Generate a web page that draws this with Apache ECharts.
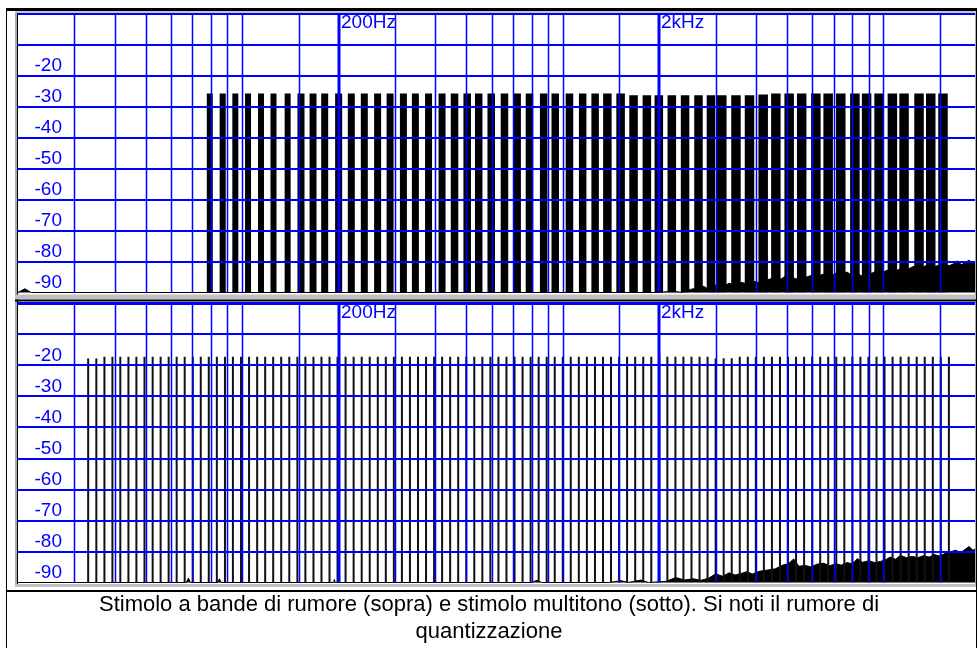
<!DOCTYPE html>
<html>
<head>
<meta charset="utf-8">
<script src="https://cdn.jsdelivr.net/npm/echarts@6/dist/echarts.min.js"></script>
<style>
html, body { margin: 0; padding: 0; background: #fff; }
#chart { width: 979px; height: 648px; }
</style>
</head>
<body>
<div id="chart"></div>
<script>
// frequency grid (Hz) and the two labelled decades
var gridFreqs = [30, 40, 50, 60, 70, 80, 90, 100, 150, 300, 400, 500, 600, 700, 800, 900, 1000,
    1500, 3000, 4000, 5000, 6000, 7000, 8000, 9000, 10000, 15000];
var majorFreqs = [200, 2000];
var majorLabels = ['200Hz', '2kHz'];
var yLabels = ['-20', '-30', '-40', '-50', '-60', '-70', '-80', '-90'];

// top: noise bands (edges in Hz, level in dB)
var bandLow = [77.6, 85.1, 93.2, 102.1, 112.1, 122.6, 135.7, 148.8, 162.3, 176.4, 195.0, 213.6, 234.5,
    258.0, 282.2, 310.5, 338.4, 372.0, 409.8, 447.4, 490.0, 532.3, 582.3, 640.3, 701.5, 766.3, 848.6,
    922.0, 1021, 1123, 1228, 1336, 1469, 1612, 1774, 1933, 2122, 2334, 2570, 2811, 3027, 3352, 3694,
    4076, 4464, 4912, 5373, 5949, 6498, 7115, 7874, 8565, 9367, 10306, 11208, 12481, 13575, 14823];
var bandHigh = [81.0, 88.9, 97.3, 106.6, 117.0, 128.0, 141.7, 156.5, 170.6, 185.5, 205.1, 224.6, 246.6,
    271.3, 296.7, 326.5, 355.8, 391.1, 430.9, 472.2, 517.2, 561.7, 614.5, 675.8, 740.3, 808.7, 895.6,
    973.1, 1078, 1185, 1296, 1420, 1562, 1714, 1886, 2055, 2256, 2481, 2732, 2988, 3241, 3588, 3955,
    4363, 4779, 5258, 5752, 6369, 6957, 7617, 8430, 9170, 10028, 11034, 11999, 13362, 14533, 15869];
var bandLevel = [-25.8, -25.8, -25.8, -25.8, -25.8, -25.8, -25.8, -25.8, -25.8, -25.8, -25.8, -25.8,
    -25.8, -25.8, -25.8, -25.8, -25.8, -25.8, -25.8, -25.8, -25.8, -25.8, -25.8, -25.8, -25.8, -25.8,
    -25.8, -25.8, -25.8, -25.8, -25.8, -25.8, -25.8, -26.4, -26.4, -26.4, -26.4, -26.4, -26.4, -26.4,
    -26.4, -26.4, -26.4, -26.1, -25.8, -25.8, -25.8, -25.8, -25.8, -25.8, -25.8, -25.8, -25.8, -25.8,
    -25.8, -25.8, -25.8, -25.8];

// bottom: multitone (Hz, dB)
var toneFreqs = [
    33.1, 35.1, 37.2, 39.4, 41.7, 44.2, 46.8, 49.6, 52.6, 55.7, 59.0, 62.5,
    66.2, 70.2, 74.3, 78.7, 83.4, 88.4, 93.6, 99.2, 105.1, 111.4, 118.0, 125.0,
    132.4, 140.3, 148.7, 157.5, 166.9, 176.8, 187.3, 198.4, 210.2, 222.7, 236.0, 250.0,
    264.9, 280.6, 297.3, 315.0, 333.7, 353.6, 374.6, 396.9, 420.4, 445.4, 471.9, 500,
    529.7, 561.2, 594.6, 630.0, 667.4, 707.1, 749.2, 793.7, 840.9, 890.9, 943.9, 1000,
    1059, 1122, 1189, 1260, 1335, 1414, 1498, 1587, 1682, 1782, 1888, 2000,
    2119, 2245, 2378, 2520, 2670, 2828, 2997, 3175, 3364, 3564, 3776, 4000,
    4238, 4490, 4757, 5040, 5339, 5657, 5993, 6350, 6727, 7127, 7551, 8000,
    8476, 8980, 9514, 10079, 10679, 11314, 11986, 12699, 13454, 14254, 15102, 16000];
var toneLevels = [
    -17.9, -17.9, -17.3, -17.3, -17.3, -17.3, -17.3, -17.3, -17.3, -17.3, -17.3, -17.3,
    -17.3, -17.3, -17.3, -17.3, -17.3, -17.3, -17.3, -17.3, -17.3, -17.3, -17.3, -17.3,
    -17.3, -17.3, -17.3, -17.3, -17.3, -17.3, -17.3, -17.3, -17.3, -17.3, -17.3, -17.3,
    -17.3, -17.3, -17.3, -17.3, -17.3, -17.3, -17.3, -17.3, -17.3, -17.3, -17.3, -17.3,
    -17.3, -17.3, -17.3, -17.3, -17.3, -17.3, -17.3, -17.3, -17.3, -17.3, -17.3, -17.3,
    -17.3, -17.3, -17.3, -17.3, -17.3, -17.3, -17.3, -17.3, -17.3, -17.3, -17.3, -17.3,
    -17.3, -17.3, -17.3, -17.3, -17.3, -17.3, -17.9, -17.8, -17.8, -17.3, -17.3, -17.3,
    -17.3, -17.3, -17.3, -17.3, -17.3, -17.3, -17.3, -17.3, -17.3, -17.3, -17.3, -17.3,
    -17.3, -17.3, -17.3, -17.3, -17.3, -17.3, -17.3, -17.3, -17.3, -17.3, -17.3, -17.3];

// quantization noise floor (Hz, dB)
var noiseTop = [[20, -90], [21, -88.8], [22, -90], [2000, -90], [2200, -89.5], [2350, -90], [2500, -89],
    [2650, -88.5], [2750, -88], [2850, -89], [2950, -87.8], [3050, -87.5], [3150, -88.2], [3300, -87],
    [3450, -87.6], [3600, -86.7], [3750, -87.2], [3900, -86.3], [4100, -86.8], [4300, -86], [4500, -85.5],
    [4700, -86.2], [4900, -85], [5100, -84.6], [5300, -85.5], [5500, -86], [5700, -85.2], [5950, -84.5],
    [6200, -85], [6400, -84.3], [6650, -83.8], [6900, -84.5], [7150, -83.6], [7400, -84.2], [7700, -83.4],
    [8000, -84.6], [8300, -83.9], [8600, -84.8], [8900, -83.2], [9200, -83.8], [9600, -82.8], [10000, -83.3],
    [10500, -82.5], [11000, -82.9], [11500, -81.9], [12000, -82.3], [12600, -81.3], [13200, -81.8],
    [13800, -81.1], [14400, -81.6], [15000, -81.2], [15500, -80.5], [16000, -81.4], [16500, -80.8],
    [17000, -79.8], [17500, -81], [18000, -80.4], [18500, -79.5], [19000, -80.8], [19300, -79.8]];
var noiseBottom = [[20, -90], [67, -90], [68, -88.6], [69, -90], [84, -90], [85, -88.8], [86, -90],
    [193, -90], [194, -89], [195, -90], [800, -90], [830, -89.3], [860, -90], [1400, -90], [1520, -89.4],
    [1600, -90], [1750, -89.2], [1850, -90], [2100, -89.6], [2250, -88.4], [2400, -89.2], [2550, -88.8],
    [2700, -89.3], [2850, -88.6], [3000, -87.2], [3150, -88], [3300, -86.9], [3450, -87.6], [3600, -87.1],
    [3750, -86.5], [3900, -87.3], [4100, -86.4], [4350, -86], [4600, -85.6], [4850, -84.4], [5050, -84],
    [5250, -82.4], [5450, -84.8], [5700, -84.5], [5950, -85], [6200, -84.1], [6500, -83.8], [6800, -84.6],
    [7100, -84], [7400, -84.4], [7700, -83.6], [8000, -84], [8300, -82.3], [8600, -83.5], [9000, -83],
    [9400, -83.6], [9800, -83.2], [10200, -82.6], [10500, -81.8], [10900, -82.5], [11300, -81.3],
    [11800, -82], [12300, -81.6], [12800, -82], [13300, -81.4], [13900, -81.8], [14400, -81],
    [15000, -81.5], [15600, -80.6], [16200, -80.1], [16800, -79.6], [17400, -80.4], [18000, -79.3],
    [18500, -78.4], [19000, -79.6], [19300, -79.2]];

var BLUE = '#0000ff';
var FONT = '"Liberation Sans", Arial, sans-serif';

var chart = echarts.init(document.getElementById('chart'));

function xAxisFor(i) {
    return {
        type: 'log', logBase: 10, gridIndex: i, min: 20, max: 19300, z: 6,
        axisLine: { lineStyle: { color: BLUE, width: 3 } },
        axisTick: { show: false }, axisLabel: { show: false }, splitLine: { show: false }
    };
}
function yAxisFor(i) {
    return {
        type: 'value', gridIndex: i, min: -90, max: 0, interval: 10, z: 3,
        axisLine: { show: false }, axisTick: { show: false },
        splitLine: { show: true, showMaxLine: false, showMinLine: false, lineStyle: { color: BLUE, width: 2 } },
        axisLabel: {
            color: BLUE, fontSize: 19, fontFamily: FONT, margin: -44, align: 'right', verticalAlign: 'bottom',
            formatter: function (v) { return yLabels.indexOf(String(v)) >= 0 ? String(v) : ''; }
        }
    };
}

// vertical grid lines, drawn over the data like the analyser does
function minorGrid(i) {
    return {
        type: 'custom', xAxisIndex: i, yAxisIndex: i, z: 5, silent: true,
        data: gridFreqs.map(function (f) { return [f, 0]; }),
        encode: { x: 0, y: 1 },
        renderItem: function (params, api) {
            var top = api.coord([api.value(0), 0]);
            var bot = api.coord([api.value(0), -90]);
            var x = Math.round(top[0]) + 0.5;
            return { type: 'line', shape: { x1: x, y1: top[1], x2: x, y2: bot[1] },
                style: { stroke: BLUE, lineWidth: 1.5 } };
        }
    };
}
function majorGrid(i) {
    return {
        type: 'custom', xAxisIndex: i, yAxisIndex: i, z: 4, silent: true,
        data: majorFreqs.map(function (f, k) { return [f, 0, k]; }),
        encode: { x: 0, y: 1 },
        renderItem: function (params, api) {
            var top = api.coord([api.value(0), 0]);
            var bot = api.coord([api.value(0), -90]);
            var x = Math.round(top[0]);
            return { type: 'group', children: [
                { type: 'line', shape: { x1: x, y1: top[1], x2: x, y2: bot[1] },
                  style: { stroke: BLUE, lineWidth: 3 } },
                { type: 'text', x: x + 2, y: top[1],
                  style: { text: majorLabels[api.value(2)], fill: BLUE, fontSize: 19, fontFamily: FONT,
                           align: 'left', verticalAlign: 'top' } }
            ] };
        }
    };
}
function noiseSeries(i, data) {
    return {
        type: 'line', xAxisIndex: i, yAxisIndex: i, z: 1, silent: true, showSymbol: false,
        data: data, lineStyle: { color: '#000', width: 1 },
        areaStyle: { color: '#000', opacity: 1, origin: 'start' }
    };
}

var bandData = bandLow.map(function (lo, k) { return [lo, bandHigh[k], bandLevel[k]]; });
var toneData = toneFreqs.map(function (f, k) { return [f, toneLevels[k]]; });

var option = {
    animation: false,
    backgroundColor: '#fff',
    grid: [
        { left: 18, top: 13.5, width: 957, height: 279 },
        { left: 18, top: 303, width: 957, height: 279.5 }
    ],
    xAxis: [xAxisFor(0), xAxisFor(1)],
    yAxis: [yAxisFor(0), yAxisFor(1)],
    series: [
        noiseSeries(0, noiseTop),
        {
            type: 'custom', xAxisIndex: 0, yAxisIndex: 0, z: 2, silent: true, clip: true,
            data: bandData, encode: { x: [0, 1], y: 2 },
            renderItem: function (params, api) {
                var p1 = api.coord([api.value(0), api.value(2)]);
                var p2 = api.coord([api.value(1), -90]);
                return { type: 'rect', shape: { x: p1[0], y: p1[1], width: p2[0] - p1[0], height: p2[1] - p1[1] },
                    style: { fill: '#000' } };
            }
        },
        majorGrid(0),
        minorGrid(0),
        noiseSeries(1, noiseBottom),
        {
            type: 'custom', xAxisIndex: 1, yAxisIndex: 1, z: 2, silent: true, clip: true,
            data: toneData, encode: { x: 0, y: 1 },
            renderItem: function (params, api) {
                var p1 = api.coord([api.value(0), api.value(1)]);
                var p2 = api.coord([api.value(0), -90]);
                return { type: 'rect', shape: { x: p1[0] - 1, y: p1[1], width: 2, height: p2[1] - p1[1] },
                    style: { fill: '#111' } };
            }
        },
        majorGrid(1),
        minorGrid(1)
    ],
    graphic: [
        // document frame
        { type: 'rect', z: 10, silent: true, shape: { x: 6, y: 8, width: 971, height: 3 }, style: { fill: '#000' } },
        { type: 'rect', z: 10, silent: true, shape: { x: 6, y: 8, width: 1, height: 640 }, style: { fill: '#000' } },
        { type: 'rect', z: 10, silent: true, shape: { x: 976, y: 8, width: 1, height: 640 }, style: { fill: '#000' } },
        { type: 'rect', z: 10, silent: true, shape: { x: 6, y: 590, width: 971, height: 2 }, style: { fill: '#000' } },
        // panel bevels
        { type: 'rect', z: 10, silent: true, shape: { x: 15, y: 11, width: 2, height: 576 }, style: { fill: '#a8a8a8' } },
        { type: 'rect', z: 10, silent: true, shape: { x: 17, y: 11, width: 1, height: 576 }, style: { fill: '#000' } },
        { type: 'rect', z: 10, silent: true, shape: { x: 975, y: 11, width: 1, height: 576 }, style: { fill: '#a8a8a8' } },
        { type: 'rect', z: 10, silent: true, shape: { x: 15, y: 11, width: 961, height: 2 }, style: { fill: '#c8c8c8' } },
        { type: 'rect', z: 10, silent: true, shape: { x: 15, y: 294.5, width: 961, height: 5 }, style: { fill: '#c0c0c0' } },
        { type: 'rect', z: 10, silent: true, shape: { x: 15, y: 299.5, width: 961, height: 2 }, style: { fill: '#000' } },
        { type: 'rect', z: 10, silent: true, shape: { x: 15, y: 584, width: 961, height: 3 }, style: { fill: '#c0c0c0' } },
        // caption
        { type: 'text', z: 10, silent: true, x: 489, y: 605,
          style: { text: 'Stimolo a bande di rumore (sopra) e stimolo multitono (sotto). Si noti il rumore di',
                   fill: '#000', fontSize: 22, fontFamily: FONT, align: 'center', verticalAlign: 'middle' } },
        { type: 'text', z: 10, silent: true, x: 489, y: 632,
          style: { text: 'quantizzazione', fill: '#000', fontSize: 22, fontFamily: FONT,
                   align: 'center', verticalAlign: 'middle' } }
    ]
};

chart.setOption(option);
</script>
</body>
</html>
